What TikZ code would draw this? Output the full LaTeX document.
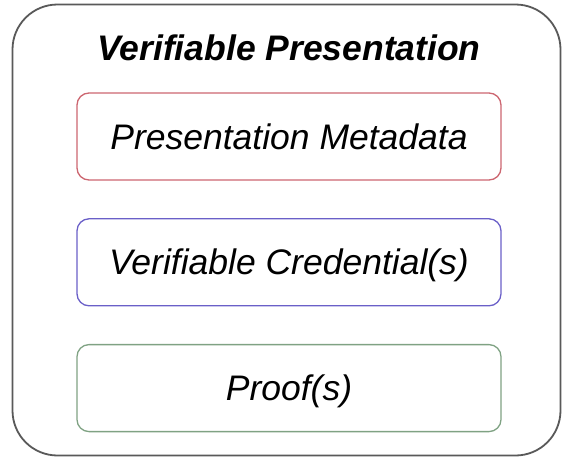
\documentclass[tikz,border=0pt]{standalone}
\usepackage{fontspec}
\setmainfont{Liberation Sans}
\usetikzlibrary{positioning}
\definecolor{metared}{HTML}{CC6670}
\definecolor{credblue}{HTML}{6A5FC8}
\definecolor{proofgreen}{HTML}{7FA283}
\begin{document}
\begin{tikzpicture}[x=1pt,y=-1pt,
    part/.style={draw,rounded corners=12pt,line width=1.3pt,minimum width=424pt,minimum height=87pt,
      text height=25pt,text depth=0pt,font=\itshape\fontsize{35.5}{40}\selectfont}]
  \useasboundingbox (0,0) rectangle (563,458);
  \node[draw=black!65,line width=1.8pt,rounded corners=45pt,minimum width=548pt,minimum height=451pt] (vp) at (286.5,230) {};
  \node[font=\bfseries\itshape\fontsize{35.5}{40}\selectfont] (title) at (289,48) {Verifiable Presentation};
  \node[part,draw=metared] (meta) at (289,136.5) {Presentation Metadata};
  \node[part,draw=credblue,below=37.5pt of meta] (cred) {Verifiable Credential(s)};
  \node[part,draw=proofgreen,below=37.5pt of cred] (proof) {Proof(s)};
\end{tikzpicture}
\end{document}
